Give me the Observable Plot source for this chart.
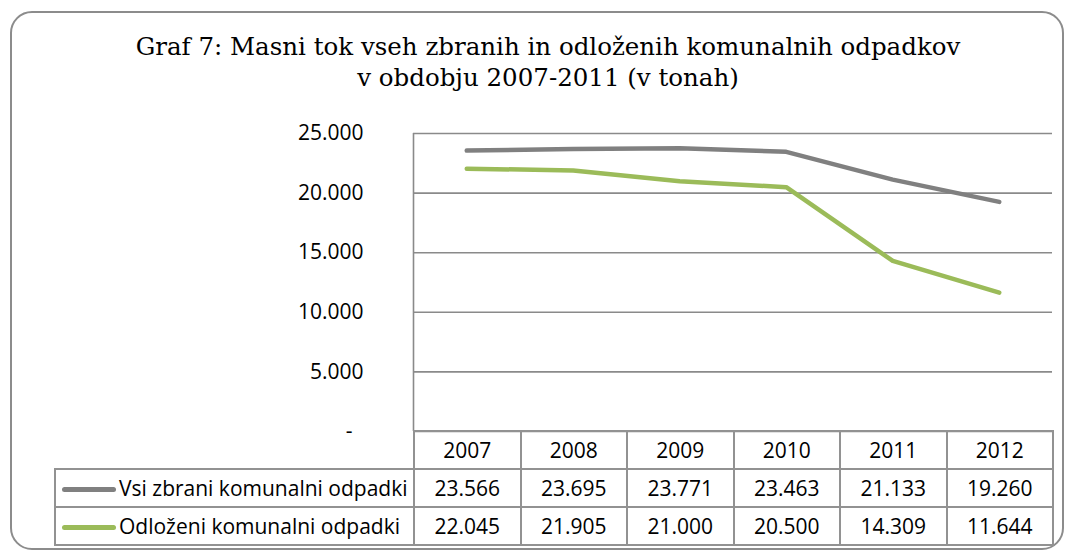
<!DOCTYPE html>
<html><head><meta charset="utf-8">
<script src="https://cdn.jsdelivr.net/npm/d3@7"></script>
<script src="https://cdn.jsdelivr.net/npm/@observablehq/plot@0.6"></script>
<style>
body{margin:0;background:#fff;}
#wrap{position:relative;width:1068px;height:553px;overflow:hidden;font-family:"Open Sans",sans-serif;color:#000;}
#frame{position:absolute;left:10px;top:11px;width:1050px;height:535px;border:2px solid #8c8c8c;border-radius:22px;box-sizing:content-box;}
#title{position:absolute;left:0;width:1096px;top:31px;text-align:center;font-family:"DejaVu Serif",serif;font-size:24.5px;line-height:31px;}
#chart{position:absolute;left:0;top:0;}
#tbl{position:absolute;left:54px;top:430px;border-collapse:collapse;table-layout:fixed;font-size:21px;}
#tbl td{border:2px solid #929292;height:36px;padding:0;text-align:center;white-space:nowrap;overflow:hidden;}
#tbl td.blank{border:none;}
#tbl td.name{text-align:left;padding-left:6px;}
.sw{display:inline-block;width:54px;height:5px;border-radius:3px;vertical-align:middle;margin-right:3px;position:relative;top:-1px;}
</style></head>
<body>
<div id="wrap">
  <div id="frame"></div>
  <div id="title"></div>
  <div id="chart"></div>
</div>
<script>
const titleLines = ["Graf 7: Masni tok vseh zbranih in odloženih komunalnih odpadkov", "v obdobju 2007-2011 (v tonah)"];
const years = [2007, 2008, 2009, 2010, 2011, 2012];
const seriesNames = ["Vsi zbrani komunalni odpadki", "Odloženi komunalni odpadki"];
const collected = [23566, 23695, 23771, 23463, 21133, 19260];
const disposed = [22045, 21905, 21000, 20500, 14309, 11644];
const yTicks = [0, 5000, 10000, 15000, 20000, 25000];
const seriesColors = ["#808080", "#9bbb59"];

const seriesValues = [collected, disposed];
const fmt = v => v === 0 ? "-\u00a0\u00a0" : d3.format(",")(v).replace(/,/g, ".");

document.getElementById("title").innerHTML = titleLines.join("<br>");

const rows = [];
seriesNames.forEach((s, si) => years.forEach((yr, i) => rows.push({year: yr, value: seriesValues[si][i], series: s})));

const chart = Plot.plot({
  width: 1068, height: 432,
  marginLeft: 413, marginRight: 16, marginTop: 133, marginBottom: 1,
  style: {fontSize: "21px", fontFamily: "Open Sans, sans-serif", color: "#000", background: "transparent", overflow: "visible"},
  x: {domain: [years[0] - 0.5, years[years.length - 1] + 0.5], axis: null},
  y: {domain: [0, 25000], axis: null},
  color: {domain: seriesNames, range: seriesColors},
  marks: [
    Plot.ruleY(yTicks, {stroke: "#8a8a8a", strokeWidth: 1.6}),
    Plot.ruleX([years[0] - 0.5], {stroke: "#8a8a8a", strokeWidth: 1.6}),
    Plot.axisY({ticks: yTicks, tickFormat: fmt, tickSize: 0, tickPadding: 50, label: null, fill: "#000"}),
    Plot.line(rows, {x: "year", y: "value", z: "series", stroke: "series", strokeWidth: 4.5, strokeLinecap: "round", strokeLinejoin: "round"})
  ]
});
document.getElementById("chart").appendChild(chart);

// data table
const tbl = document.createElement("table");
tbl.id = "tbl";
const cg = document.createElement("colgroup");
const c0 = document.createElement("col"); c0.style.width = "359px"; cg.appendChild(c0);
years.forEach(() => { const c = document.createElement("col"); c.style.width = "106.5px"; cg.appendChild(c); });
tbl.appendChild(cg);
const hr = document.createElement("tr");
const blank = document.createElement("td"); blank.className = "blank"; hr.appendChild(blank);
years.forEach(yr => { const td = document.createElement("td"); td.textContent = yr; hr.appendChild(td); });
tbl.appendChild(hr);
seriesNames.forEach((s, si) => {
  const tr = document.createElement("tr");
  const nm = document.createElement("td"); nm.className = "name";
  const sw = document.createElement("span"); sw.className = "sw"; sw.style.background = seriesColors[si];
  nm.appendChild(sw); nm.appendChild(document.createTextNode(s));
  tr.appendChild(nm);
  seriesValues[si].forEach(v => { const td = document.createElement("td"); td.textContent = fmt(v); tr.appendChild(td); });
  tbl.appendChild(tr);
});
document.getElementById("wrap").appendChild(tbl);
</script>
</body></html>
